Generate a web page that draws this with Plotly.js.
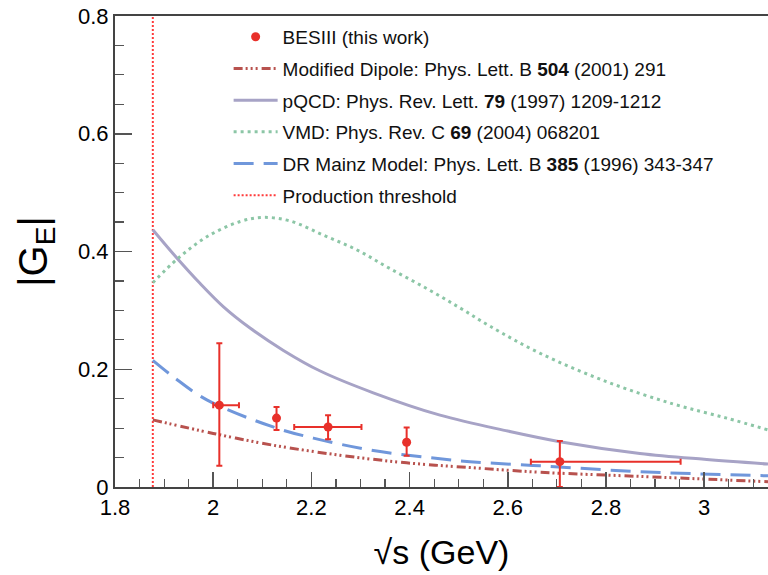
<!DOCTYPE html>
<html>
<head>
<meta charset="utf-8">
<script src="https://cdn.plot.ly/plotly-3.0.1.min.js"></script>
<style>html,body{margin:0;padding:0;background:#fff;overflow:hidden;}#chart{width:768px;height:575px;}</style>
</head>
<body>
<div id="chart"></div>
<script>
// BESIII data points
const besX = [2.0125, 2.129, 2.234, 2.394, 2.706];
const besY = [0.139, 0.117, 0.102, 0.076, 0.043];
const besErrYPlus = [0.105, 0.019, 0.020, 0.025, 0.035];
const besErrYMinus = [0.103, 0.020, 0.021, 0.023, 0.043];
const besErrXPlus = [0.040, 0.0, 0.068, 0.0, 0.246];
const besErrXMinus = [0.0125, 0.0, 0.069, 0.0, 0.059];

// Model curves
const dipoleX = [1.877, 2.0, 2.122, 2.258, 2.394, 2.523, 2.666, 2.869, 3.13];
const dipoleY = [0.114, 0.091, 0.071, 0.054, 0.041, 0.033, 0.025, 0.018, 0.009];

const pqcdX = [1.877, 1.926, 1.973, 2.021, 2.075, 2.143, 2.218, 2.326, 2.462, 2.6, 2.706, 2.869, 3.0, 3.13];
const pqcdY = [0.437, 0.389, 0.346, 0.306, 0.270, 0.232, 0.197, 0.160, 0.122, 0.095, 0.077, 0.057, 0.047, 0.039];

const vmdX = [1.877, 1.928, 1.987, 2.055, 2.102, 2.156, 2.224, 2.292, 2.360, 2.435, 2.503, 2.564, 2.666, 2.801, 2.937, 3.046, 3.13];
const vmdY = [0.347, 0.388, 0.425, 0.451, 0.458, 0.452, 0.428, 0.403, 0.371, 0.337, 0.304, 0.273, 0.227, 0.179, 0.141, 0.117, 0.097];

const drX = [1.877, 1.919, 1.987, 2.122, 2.204, 2.326, 2.462, 2.523, 2.666, 2.869, 3.13];
const drY = [0.215, 0.187, 0.148, 0.102, 0.083, 0.062, 0.048, 0.043, 0.036, 0.026, 0.019];

const thresholdX = [1.877, 1.877];
const thresholdY = [0, 0.8];

const names = [
  'BESIII (this work)',
  'Modified Dipole: Phys. Lett. B <b>504</b> (2001) 291',
  'pQCD: Phys. Rev. Lett. <b>79</b> (1997) 1209-1212',
  'VMD: Phys. Rev. C <b>69</b> (2004) 068201',
  'DR Mainz Model: Phys. Lett. B <b>385</b> (1996) 343-347',
  'Production threshold'
];

const FONT = 'Liberation Sans, Arial, Helvetica, sans-serif';

const traces = [
  {x: thresholdX, y: thresholdY, mode: 'lines', name: names[5], legendgroup: 'g6', legendrank: 6,
   line: {color: '#ff3a3a', width: 2, dash: '2px,2px'}},
  {x: dipoleX, y: dipoleY, mode: 'lines', name: names[1], legendgroup: 'g2', legendrank: 2,
   line: {color: '#b8524e', width: 3, shape: 'spline', dash: '9px,3px,2px,3px,2px,3px,2px,4px'}},
  {x: pqcdX, y: pqcdY, mode: 'lines', name: names[2], legendgroup: 'g3', legendrank: 3,
   line: {color: '#a7a3c6', width: 3, shape: 'spline'}},
  {x: vmdX, y: vmdY, mode: 'lines', name: names[3], legendgroup: 'g4', legendrank: 4,
   line: {color: '#8cc6a6', width: 3, shape: 'spline', dash: '3px,4px'}},
  {x: drX, y: drY, mode: 'lines', name: names[4], legendgroup: 'g5', legendrank: 5,
   line: {color: '#7097db', width: 3, shape: 'spline', dash: '20px,10px'}},
  {x: besX, y: besY, mode: 'markers', name: names[0], legendgroup: 'g1', legendrank: 1,
   marker: {color: '#e8302a', size: 9},
   error_y: {type: 'data', symmetric: false, array: besErrYPlus, arrayminus: besErrYMinus, color: '#e8302a', thickness: 2, width: 3},
   error_x: {type: 'data', symmetric: false, array: besErrXPlus, arrayminus: besErrXMinus, color: '#e8302a', thickness: 2, width: 3}}
];

const layout = {
  width: 768, height: 575,
  margin: {l: 115, r: 0, t: 16, b: 88},
  paper_bgcolor: '#fff', plot_bgcolor: '#fff',
  font: {family: FONT, color: '#000'},
  showlegend: true,
  legend: {x: 0.174, y: 0.996, xanchor: 'left', yanchor: 'top', bgcolor: 'rgba(0,0,0,0)',
    font: {family: FONT, size: 19, color: '#111'}, itemwidth: 44, tracegroupgap: 4, traceorder: 'grouped'},
  xaxis: {
    range: [1.8, 3.13], dtick: 0.2, tick0: 1.8, ticks: 'inside', ticklen: 15, tickwidth: 1.5, tickcolor: '#555',
    minor: {dtick: 0.05, ticks: 'inside', ticklen: 8, tickwidth: 1.2, tickcolor: '#555'},
    showline: true, linecolor: '#444', linewidth: 2, mirror: true, showgrid: false, zeroline: false,
    tickfont: {family: FONT, size: 22, color: '#000'},
    title: {text: '√s (GeV)', font: {family: FONT, size: 34, color: '#000'}, standoff: 21}
  },
  yaxis: {
    range: [0, 0.8], dtick: 0.2, tick0: 0, ticks: 'inside', ticklen: 17, tickwidth: 1.5, tickcolor: '#555',
    minor: {dtick: 0.05, ticks: 'inside', ticklen: 9, tickwidth: 1.2, tickcolor: '#555'},
    showline: true, linecolor: '#444', linewidth: 2, mirror: false, showgrid: false, zeroline: false,
    tickfont: {family: FONT, size: 22, color: '#000'},
    title: {text: '|G<sub>E</sub>|', font: {family: FONT, size: 40, color: '#000'}, standoff: 18}
  }
};

Plotly.newPlot('chart', traces, layout, {displayModeBar: false, staticPlot: true});
</script>
</body>
</html>
